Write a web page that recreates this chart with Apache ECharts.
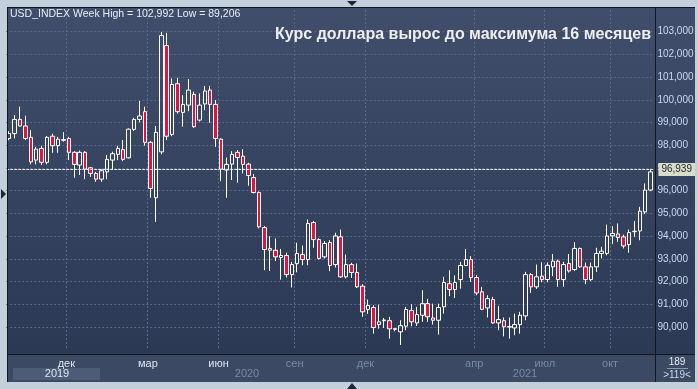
<!DOCTYPE html>
<html><head><meta charset="utf-8">
<script src="https://cdn.jsdelivr.net/npm/echarts@6/dist/echarts.min.js"></script>
<style>html,body{margin:0;padding:0;background:#c4cfdc;overflow:hidden}#c{width:698px;height:389px}</style>
</head><body><div id="c"></div>
<script>
// ---- data (weekly candles) ----
const opens = [98.30,98.52,99.14,98.85,98.35,97.35,97.86,97.25,98.40,97.98,98.22,98.30,97.69,97.13,97.69,97.01,96.76,96.51,96.83,97.35,
97.60,97.81,97.45,98.70,99.14,99.48,98.13,95.69,97.71,102.39,98.48,100.71,99.45,99.77,100.24,99.11,99.82,100.43,99.80,98.27,
96.91,97.17,97.69,97.52,97.17,96.58,95.92,94.38,93.46,93.38,93.06,93.15,92.31,92.79,93.19,92.97,94.60,93.85,93.09,93.72,
92.75,93.97,92.21,92.75,92.40,91.80,90.77,90.86,90.11,90.28,90.28,89.93,89.79,90.04,90.73,90.18,90.52,91.03,90.40,90.30,
90.89,91.91,91.65,92.09,92.71,92.97,92.18,91.55,90.84,91.21,90.18,90.28,90.00,89.96,90.11,90.49,92.31,91.77,92.24,92.09,
92.65,92.90,92.09,92.80,92.53,93.46,92.65,92.09,92.65,93.24,93.24,94.01,94.10,93.97,93.63,94.20,94.23,95.07,96.03];
const closes = [98.52,99.14,98.85,98.30,97.27,97.83,97.25,98.35,97.98,98.27,98.25,97.69,97.16,97.69,96.95,96.76,96.51,96.88,97.38,97.63,
97.86,97.38,98.71,99.14,99.29,98.13,96.10,98.57,102.83,98.40,100.68,99.48,99.80,100.43,98.82,99.77,100.39,99.80,98.30,96.95,
97.16,97.60,97.46,97.16,96.67,95.92,94.41,93.41,93.38,93.09,93.15,92.31,92.75,93.24,92.97,94.56,93.85,93.02,93.68,92.71,
94.01,92.21,92.75,92.40,91.77,90.67,90.95,89.98,90.23,90.31,89.92,89.90,90.06,90.77,90.23,90.55,91.03,90.45,90.30,90.86,
91.96,91.65,91.96,92.71,92.97,92.18,91.50,90.78,91.25,90.18,90.33,90.01,90.02,90.11,90.52,92.31,91.77,92.21,92.09,92.72,
92.90,92.09,92.75,92.47,93.46,92.65,92.09,92.65,93.24,93.34,94.01,94.12,93.94,93.57,94.16,94.22,95.10,96.03,96.83];
const lows = [98.22,98.30,98.83,98.23,97.16,97.16,97.13,97.16,97.67,97.67,98.16,97.35,96.57,96.69,96.51,96.61,96.39,96.39,96.51,96.95,
97.35,97.30,97.42,98.63,99.01,97.98,95.69,94.63,97.60,98.23,98.40,99.40,98.82,99.50,98.77,99.05,99.55,98.99,97.93,96.42,
95.69,96.47,96.35,96.76,96.22,95.88,94.34,92.50,92.47,92.91,92.09,92.18,91.74,92.41,92.72,92.72,93.49,92.97,93.02,92.46,
92.62,92.16,92.14,92.16,91.72,90.45,90.58,89.71,89.93,89.96,89.49,89.81,89.21,89.86,90.04,90.05,90.23,90.23,90.11,89.67,
90.59,91.36,91.28,91.69,92.68,91.99,91.40,90.74,90.42,90.15,89.86,89.59,89.49,89.64,89.71,90.30,91.50,91.68,91.97,91.97,
92.24,91.77,91.77,92.40,92.46,92.60,91.89,92.02,92.43,93.02,93.16,93.65,93.75,93.46,93.27,93.97,93.82,94.97,95.98];
const highs = [98.62,99.33,99.70,99.30,98.67,97.93,97.98,98.40,98.51,98.37,98.58,98.37,97.74,97.77,97.74,97.05,96.83,96.95,97.57,97.72,
97.98,98.23,98.74,99.21,99.95,99.70,98.19,98.85,102.99,102.95,100.94,100.97,100.21,100.92,100.36,100.28,100.61,100.61,99.99,98.30,
97.46,97.74,97.79,97.83,97.23,96.73,95.97,94.44,94.00,93.90,93.44,93.27,92.87,93.71,93.59,94.74,94.67,93.91,93.78,93.82,
94.15,94.29,93.19,92.83,92.80,91.89,91.21,90.96,90.99,90.40,90.45,89.94,90.30,90.89,91.00,90.89,91.62,91.24,91.03,91.03,
92.21,92.50,92.28,92.87,93.44,93.12,92.28,91.77,91.40,91.33,90.93,90.42,90.42,90.59,90.67,92.43,92.38,92.75,92.85,92.85,
93.21,92.97,92.87,93.21,93.74,93.50,92.84,92.84,93.49,93.53,94.51,94.44,94.56,94.07,94.29,94.67,95.29,96.32,96.94];
const weeks = opens.map((_, i) => 'W' + (i + 1));
const monthTickIdx = [11, 26, 39, 53, 66, 86, 99, 111];
const monthTickText = ['дек', 'мар', 'июн', 'сен', 'дек', 'апр', 'июл', 'окт'];
const monthTickBright = [1, 1, 1, 0, 0, 0, 0, 0];
const yearText = ['2019', '2020', '2021'];
const lastPrice = 96.939;
const headerText = 'USD_INDEX Week High = 102,992 Low = 89,206';
const titleText = 'Курс доллара вырос до максимума 16 месяцев';
const barCountText = ['189', '>119<'];

const fmt = v => v.toFixed(3).replace('.', ',');
const chart = echarts.init(document.getElementById('c'), null, {renderer: 'canvas'});
const G = echarts.graphic;
const panelGrad = () => new G.LinearGradient(0, 0, 0, 1, [{offset: 0, color: '#404e6b'}, {offset: 1, color: '#2c3955'}]);
const FN = '"Liberation Sans", Arial, sans-serif';
const FNN = '"Liberation Sans Narrow", "Liberation Sans", Arial, sans-serif';

const option = {
  backgroundColor: '#c4cfdc',
  animation: false,
  title: [
    {text: headerText, left: 10, top: 9, padding: 0,
     textStyle: {color: '#e8eef6', fontSize: 10.5, fontWeight: 'normal', fontFamily: FNN}},
    {text: titleText, right: 47, top: 27, padding: 0,
     textStyle: {color: '#eeeeee', fontSize: 16, fontWeight: 'bold', fontFamily: FN}}
  ],
  grid: {left: 6.28, right: 44.6, top: 10, bottom: 40},
  xAxis: {
    type: 'category', data: weeks, boundaryGap: true,
    axisLine: {show: false}, axisTick: {show: false},
    axisLabel: {
      interval: (i) => monthTickIdx.includes(i), margin: 9, padding: [0, 5, 0, 0],
      fontFamily: FNN, fontSize: 11,
      formatter: (v, i) => { const k = monthTickIdx.indexOf(i); return k < 0 ? '' : (monthTickBright[k] ? '{b|' : '{d|') + monthTickText[k] + '}'; },
      rich: {b: {color: '#dfe6ef', fontSize: 11, fontFamily: FNN}, d: {color: '#7b8aa4', fontSize: 11, fontFamily: FNN}}
    },
    splitLine: {show: true, showMaxLine: false, interval: (i) => monthTickIdx.includes(i), lineStyle: {color: '#5a6985', type: [2, 2], width: 1}}
  },
  yAxis: {
    type: 'value', position: 'right', scale: true, min: 89.034, max: 103.955, minInterval: 1, maxInterval: 1, splitNumber: 15,
    axisLine: {show: false}, axisTick: {show: false},
    axisLabel: {margin: 4, color: '#c8daf0', fontSize: 10, fontFamily: FN,
      formatter: v => (Math.abs(v - Math.round(v)) < 1e-6 && v >= 90 && v <= 103) ? fmt(v) : ''},
    splitLine: {show: true, showMinLine: false, showMaxLine: false, lineStyle: {color: '#5a6985', type: [2, 2], width: 1}}
  },
  series: [{
    type: 'candlestick',
    data: opens.map((o, i) => [o, closes[i], lows[i], highs[i]]),
    barWidth: 4,
    itemStyle: {color: 'rgba(0,0,0,0)', color0: '#e8103c', borderColor: '#ffffff', borderColor0: '#ffffff', borderWidth: 1},
    emphasis: {disabled: true},
    markLine: {
      silent: true, symbol: ['none', 'none'], animation: false,
      data: [{yAxis: lastPrice}],
      lineStyle: {color: '#e6ecf2', type: [3, 1], width: 1},
      label: {position: 'end', distance: 5, formatter: fmt(lastPrice), backgroundColor: '#d9dcc6', color: '#1c2534',
        fontSize: 10, fontFamily: FN, padding: [2, 3, 1, 3]}
    }
  }],
  graphic: [
    {type: 'rect', z: -10, silent: true, shape: {x: 7, y: 7, width: 688, height: 347}, style: {fill: panelGrad()}},
    {type: 'rect', z: -10, silent: true, shape: {x: 7, y: 354, width: 688, height: 28}, style: {fill: '#3b4963'}},
    {type: 'rect', z: -9, silent: true, shape: {x: 13, y: 368, width: 87, height: 12}, style: {fill: '#4c5b76'}},
    {type: 'text', z: 50, silent: true, style: {text: yearText[0], x: 57, y: 374, align: 'center', verticalAlign: 'middle', fill: '#dfe6ef', font: '11px ' + FNN}},
    {type: 'text', z: 50, silent: true, style: {text: yearText[1], x: 247, y: 374, align: 'center', verticalAlign: 'middle', fill: '#7b8aa4', font: '11px ' + FNN}},
    {type: 'text', z: 50, silent: true, style: {text: yearText[2], x: 525, y: 374, align: 'center', verticalAlign: 'middle', fill: '#7b8aa4', font: '11px ' + FNN}},
    {type: 'text', z: 50, silent: true, style: {text: barCountText[0], x: 677, y: 362, align: 'center', verticalAlign: 'middle', fill: '#e6ecf2', font: '10px ' + FN}},
    {type: 'line', z: 50, silent: true, shape: {x1: 667, y1: 368.5, x2: 688, y2: 368.5}, style: {stroke: '#8a98b0', lineWidth: 1}},
    {type: 'text', z: 50, silent: true, style: {text: barCountText[1], x: 677, y: 375, align: 'center', verticalAlign: 'middle', fill: '#c8daf0', font: '10px ' + FN}},
    // frame lines
    {type: 'line', z: 60, silent: true, shape: {x1: 7, y1: 7.5, x2: 695, y2: 7.5}, style: {stroke: '#111822', lineWidth: 1}},
    {type: 'line', z: 60, silent: true, shape: {x1: 7.5, y1: 7, x2: 7.5, y2: 382}, style: {stroke: '#111822', lineWidth: 1}},
    {type: 'line', z: 60, silent: true, shape: {x1: 655.5, y1: 7, x2: 655.5, y2: 382}, style: {stroke: '#111822', lineWidth: 1}},
    {type: 'line', z: 60, silent: true, shape: {x1: 7, y1: 354.5, x2: 695, y2: 354.5}, style: {stroke: '#111822', lineWidth: 1}},
    // navigation triangles
    {type: 'polygon', z: 60, silent: true, shape: {points: [[347, 1], [357, 1], [352, 6]]}, style: {fill: '#1c2535'}},
    {type: 'polygon', z: 60, silent: true, shape: {points: [[347, 389], [357, 389], [352, 383]]}, style: {fill: '#1c2535'}},
    {type: 'polygon', z: 60, silent: true, shape: {points: [[1, 189], [1, 199], [6, 194]]}, style: {fill: '#1c2535'}}
  ]
};
chart.setOption(option);
</script></body></html>
